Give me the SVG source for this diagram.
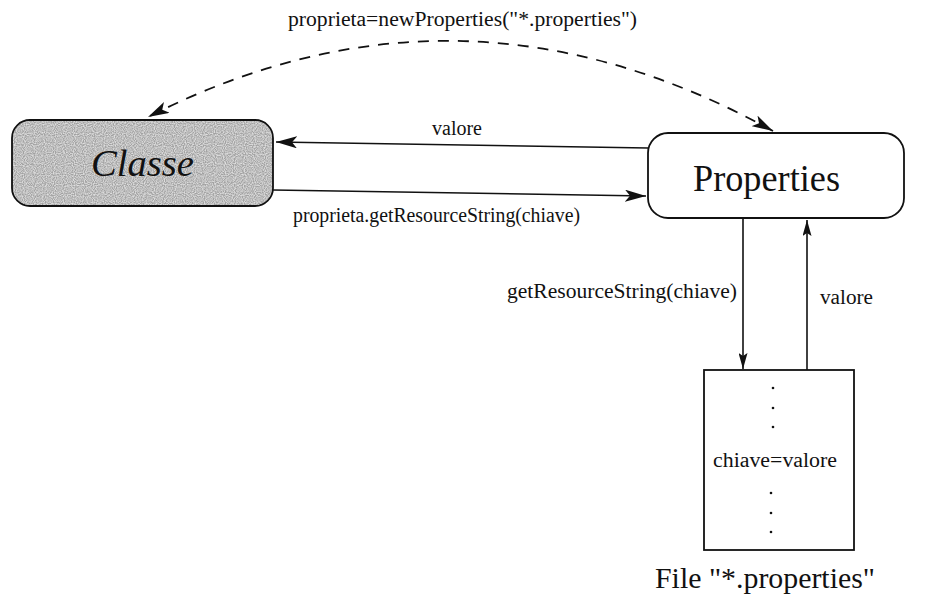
<svg xmlns="http://www.w3.org/2000/svg" width="925" height="596" viewBox="0 0 925 596">
  <style>
    .lbl { font-family: "Liberation Serif", "Times New Roman", serif; fill: #111; }
    .edge { fill: none; stroke: #111; stroke-width: 1.6; }
    .dash { fill: none; stroke: #111; stroke-width: 1.8; stroke-dasharray: 11 9; }
    .box { stroke: #111; stroke-width: 1.8; }
    .dot { fill: #111; }
  </style>
  <defs>
    <marker id="head" markerUnits="userSpaceOnUse" markerWidth="21" markerHeight="12" refX="21" refY="6" orient="auto-start-reverse">
      <path d="M0,0 L21,6 L0,12 L5,6 z" fill="#111"/>
    </marker>
    <marker id="headNarrow" markerUnits="userSpaceOnUse" markerWidth="16" markerHeight="9" refX="16" refY="4.5" orient="auto">
      <path d="M0,0 L16,4.5 L0,9 L3,4.5 z" fill="#111"/>
    </marker>
    <filter id="grain" x="0" y="0" width="100%" height="100%">
      <feTurbulence type="fractalNoise" baseFrequency="0.9" numOctaves="1" seed="3" result="n"/>
      <feColorMatrix in="n" type="matrix" values="0 0 0 0 0.75  0 0 0 0 0.75  0 0 0 0 0.75  0 0 0 2.2 -0.7" result="spots"/>
      <feComposite in="spots" in2="SourceGraphic" operator="atop"/>
    </filter>
  </defs>

  <!-- connectors -->
  <g id="connectors">
    <path class="dash" d="M773,131 Q460,-42 148,117" marker-start="url(#head)" marker-end="url(#head)"/>
    <path class="edge" d="M648,148 L276,142" marker-end="url(#head)"/>
    <path class="edge" d="M273,190 L646,196" marker-end="url(#head)"/>
    <path class="edge" d="M743,218 L743,369" marker-end="url(#headNarrow)"/>
    <path class="edge" d="M807,370 L807,220" marker-end="url(#headNarrow)"/>
    <text class="lbl" x="288" y="26" font-size="20" textLength="349" lengthAdjust="spacingAndGlyphs">proprieta=newProperties("*.properties")</text>
    <text class="lbl" x="432" y="135" font-size="20" textLength="50" lengthAdjust="spacingAndGlyphs">valore</text>
    <text class="lbl" x="293" y="222" font-size="20" textLength="287" lengthAdjust="spacingAndGlyphs">proprieta.getResourceString(chiave)</text>
    <text class="lbl" x="507" y="298" font-size="20" textLength="230" lengthAdjust="spacingAndGlyphs">getResourceString(chiave)</text>
    <text class="lbl" x="820" y="304" font-size="20" textLength="53" lengthAdjust="spacingAndGlyphs">valore</text>
  </g>

  <!-- Classe node -->
  <g id="classe">
    <rect class="box" x="12" y="120" width="261" height="86" rx="18" ry="18" fill="#a2a2a2"/>
    <rect x="13" y="121" width="259" height="84" rx="17" ry="17" fill="#a2a2a2" filter="url(#grain)"/>
    <text class="lbl" x="91" y="176" font-size="38" font-style="italic" textLength="103" lengthAdjust="spacingAndGlyphs">Classe</text>
  </g>

  <!-- Properties node -->
  <g id="properties">
    <rect class="box" x="648" y="133" width="256" height="85" rx="20" ry="20" fill="#fff"/>
    <text class="lbl" x="693" y="191" font-size="38" textLength="147" lengthAdjust="spacingAndGlyphs">Properties</text>
  </g>

  <!-- properties file node -->
  <g id="file">
    <rect class="box" x="704" y="370" width="150" height="180" fill="#fff"/>
    <circle class="dot" cx="773" cy="388" r="1.3"/>
    <circle class="dot" cx="773" cy="408" r="1.3"/>
    <circle class="dot" cx="773" cy="427" r="1.3"/>
    <text class="lbl" x="713" y="467" font-size="20" textLength="124" lengthAdjust="spacingAndGlyphs">chiave=valore</text>
    <circle class="dot" cx="771" cy="493" r="1.3"/>
    <circle class="dot" cx="771" cy="513" r="1.3"/>
    <circle class="dot" cx="771" cy="532" r="1.3"/>
    <text class="lbl" x="655" y="588" font-size="29" textLength="220" lengthAdjust="spacingAndGlyphs">File "*.properties"</text>
  </g>
</svg>
